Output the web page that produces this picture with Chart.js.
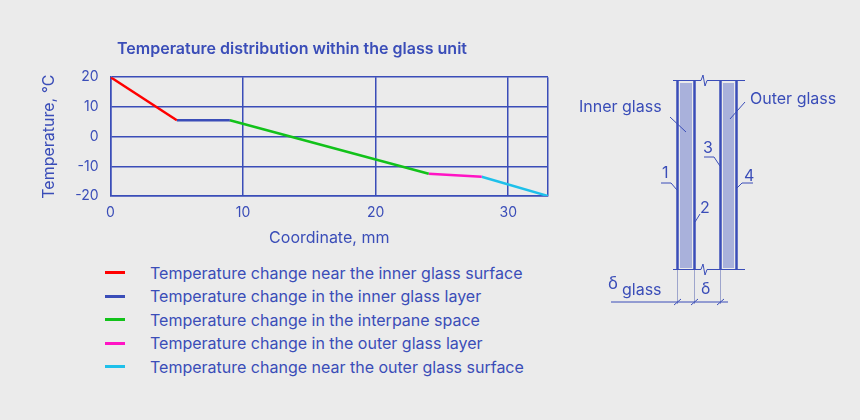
<!DOCTYPE html>
<html>
<head>
<meta charset="utf-8">
<script src="https://cdn.jsdelivr.net/npm/chart.js@4"></script>
<style>
  body { margin: 0; background: #ebebeb; font-family: Inter, sans-serif; }
  #wrap { position: relative; width: 860px; height: 420px; }
  #box { position: absolute; left: 36px; top: 40px; width: 592px; height: 208px; }
  #legend { position: absolute; left: 105px; top: 261px; color: #3a4db8; font-size: 16px; }
  .row { height: 23.5px; display: flex; align-items: center; }
  .sw { width: 20px; height: 3px; margin-right: 25px; }
  svg { position: absolute; left: 0; top: 0; }
</style>
</head>
<body>
<div id="wrap">
  <div id="box"><canvas id="grafico"></canvas></div>
  <div id="legend"></div>
  <svg width="860" height="420" font-family="Inter, sans-serif" fill="#3a4db8">
    <g stroke="#3a4db8" fill="none">
      <rect x="680" y="83" width="12" height="185" fill="#a9b1db" stroke="none"/>
      <rect x="723" y="83" width="11" height="185" fill="#a9b1db" stroke="none"/>
      <line x1="677.5" y1="81" x2="677.5" y2="270" stroke-width="2.5"/>
      <line x1="694.5" y1="81" x2="694.5" y2="270" stroke-width="2.5"/>
      <line x1="720.5" y1="81" x2="720.5" y2="270" stroke-width="2.5"/>
      <line x1="736.5" y1="81" x2="736.5" y2="270" stroke-width="2.5"/>
      <polyline points="673,80.5 701,80.5 703,75 705,86 707,80.5 745,80.5" stroke-width="1"/>
      <polyline points="673,269.5 701,269.5 703,264 705,275 707,269.5 745,269.5" stroke-width="1"/>
      <polyline points="661,183 671,183 677,190" stroke-width="1"/>
      <polyline points="695,222 700,214" stroke-width="1"/>
      <polyline points="704,157 714,157 720,166" stroke-width="1"/>
      <polyline points="737,188 742,183 753,183" stroke-width="1"/>
      <line x1="670" y1="117" x2="686" y2="132" stroke-width="1"/>
      <line x1="745" y1="102" x2="730" y2="119" stroke-width="1"/>
      <line x1="677.5" y1="270" x2="677.5" y2="304" stroke-width="0.8" stroke="#8a93c4"/>
      <line x1="694.5" y1="270" x2="694.5" y2="304" stroke-width="0.8" stroke="#8a93c4"/>
      <line x1="720.5" y1="270" x2="720.5" y2="304" stroke-width="0.8" stroke="#8a93c4"/>
      <line x1="611" y1="302" x2="728" y2="302" stroke-width="1"/>
      <line x1="674" y1="305" x2="681" y2="299" stroke-width="1"/>
      <line x1="691" y1="305" x2="698" y2="299" stroke-width="1"/>
      <line x1="717" y1="305" x2="724" y2="299" stroke-width="1"/>
    </g>
    <text x="579" y="112" font-size="16">Inner glass</text>
    <text x="750" y="104" font-size="16">Outer glass</text>
    <text x="662" y="178" font-size="16">1</text>
    <text x="700" y="213" font-size="16">2</text>
    <text x="703" y="153" font-size="16">3</text>
    <text x="744" y="181" font-size="16">4</text>
    <text x="608" y="289" font-size="17">δ</text>
    <text x="622" y="295" font-size="16">glass</text>
    <text x="701" y="294" font-size="16">δ</text>
  </svg>
</div>
<script>
const blue = '#3a4db8';
// segmentos do perfil de temperatura (coordenada mm, temperatura °C)
const xNearInner = [0, 5];
const tNearInner = [20, 5.5];
const xInnerGlass = [5, 9];
const tInnerGlass = [5.5, 5.5];
const xInterpane = [9, 24];
const tInterpane = [5.5, -12.5];
const xOuterGlass = [24, 28];
const tOuterGlass = [-12.5, -13.5];
const xNearOuter = [28, 33];
const tNearOuter = [-13.5, -20];

const labels = [
  'Temperature change near the inner glass surface',
  'Temperature change in the inner glass layer',
  'Temperature change in the interpane space',
  'Temperature change in the outer glass layer',
  'Temperature change near the outer glass surface'
];
const colors = ['#ff0000', '#3a4db8', '#12c21a', '#ff14c4', '#1ec0ea'];
const xs = [xNearInner, xInnerGlass, xInterpane, xOuterGlass, xNearOuter];
const ts = [tNearInner, tInnerGlass, tInterpane, tOuterGlass, tNearOuter];

const datasets = xs.map((x, i) => ({
  label: labels[i],
  data: x.map((v, j) => ({ x: v, y: ts[i][j] })),
  borderColor: colors[i],
  borderWidth: 2.5,
  pointRadius: 0,
  fill: false
}));

document.getElementById('legend').innerHTML = labels.map((l, i) =>
  '<div class="row"><div class="sw" style="background:' + colors[i] + '"></div>' + l + '</div>').join('');

new Chart(document.getElementById('grafico').getContext('2d'), {
  type: 'line',
  data: { datasets: datasets },
  options: {
    responsive: true,
    maintainAspectRatio: false,
    animation: false,
    layout: { padding: { right: 80 } },
    plugins: {
      legend: { display: false },
      tooltip: { enabled: false },
      title: {
        display: true,
        text: 'Temperature distribution within the glass unit',
        color: blue,
        font: { family: 'Inter', size: 16, weight: '600' },
        padding: { top: 0, bottom: 18 }
      }
    },
    scales: {
      x: {
        type: 'linear', min: 0, max: 33,
        afterBuildTicks: ax => { ax.ticks = [0, 10, 20, 30, 33].map(v => ({ value: v })); },
        ticks: { color: blue, font: { family: 'Inter', size: 14 }, padding: 8, callback: v => v === 33 ? '' : v },
        grid: { color: blue, lineWidth: 1.5, drawTicks: false },
        border: { color: blue, width: 1.5 },
        title: { display: true, text: 'Coordinate, mm', color: blue, font: { family: 'Inter', size: 16 }, padding: 0 }
      },
      y: {
        min: -20, max: 20,
        ticks: { stepSize: 10, color: blue, font: { family: 'Inter', size: 14 }, padding: 12 },
        grid: { color: blue, lineWidth: 1.5, drawTicks: false },
        border: { color: blue, width: 1.5 },
        title: { display: true, text: 'Temperature, °C', color: blue, font: { family: 'Inter', size: 16 }, padding: 4 }
      }
    }
  }
});
</script>
</body>
</html>
